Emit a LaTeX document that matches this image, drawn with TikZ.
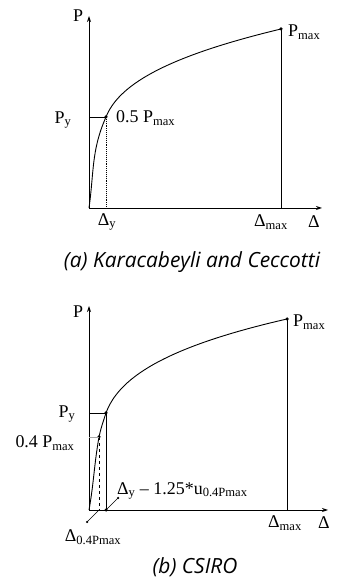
\documentclass[tikz,border=0pt]{standalone}
\usepackage{fontspec}
\setmainfont{Liberation Serif}
\newfontfamily\capfont{Open Sans}
\usetikzlibrary{arrows.meta}

\tikzset{
  axis/.style={black,line width=0.9bp,-{Stealth[length=6bp,width=4bp]}},
  curve/.style={black,line width=0.9bp},
  guide/.style={black,line width=0.9bp},
  dot/.style={circle,fill=black,inner sep=0pt,minimum size=3.5bp},
  lbl/.style={font=\fontsize{18}{21}\selectfont,inner sep=1bp},
  captext/.style={font=\capfont\itshape\fontsize{21}{25}\selectfont},
}

\begin{document}
\begin{tikzpicture}[x=1bp,y=1bp]
  \path[use as bounding box] (0,0) rectangle (338,584);
  \fill[white] (0,0) rectangle (338,584);

  % (a) upper diagram
  \coordinate (o1) at (89,376);
  \coordinate (ptop1) at (89,568);
  \coordinate (dend1) at (322,376);
  \coordinate (pyaxis1) at (89,467);
  \coordinate (dyfoot1) at (106,376);
  \coordinate (dmfoot1) at (281,376);
  \node[dot] (py1) at (106,467) {};
  \node[dot] (pmax1) at (281,555) {};

  \draw[axis] (o1) -- (ptop1);
  \draw[axis] (o1) -- (dend1);
  \draw[curve] (o1) to[out=82,in=-114] (py1.center)
    .. controls (118,497) and (160,526) .. (pmax1.center);
  \draw[guide] (pyaxis1) -- (py1.center);
  \draw[guide,densely dotted] (py1.center) -- (dyfoot1);
  \draw[guide] (pmax1.center) -- (dmfoot1);

  \node[lbl] (p1) at (78,568) {P};
  \node[lbl,anchor=west] (pmaxlbl1) at (287,552) {P\textsubscript{max}};
  \node[lbl] (pylbl1) at (63,464) {P\textsubscript{y}};
  \node[lbl,anchor=west] (halflbl1) at (115,466) {0.5 P\textsubscript{max}};
  \node[lbl] (dylbl1) at (107,362) {Δ\textsubscript{y}};
  \node[lbl] (dmlbl1) at (271,362) {Δ\textsubscript{max}};
  \node[lbl] (dlbl1) at (314,362) {Δ};
  \node[captext] (cap1) at (192,322) {(a) Karacabeyli and Ceccotti};

  % (b) lower diagram
  \coordinate (o2) at (89,74);
  \coordinate (ptop2) at (89,278);
  \coordinate (dend2) at (328,74);
  \coordinate (pyaxis2) at (89,171);
  \coordinate (qaxis2) at (89,147);
  \coordinate (qfoot2) at (99,74);
  \coordinate (dmfoot2) at (287,74);
  \node[dot] (py2) at (106,171) {};
  \node[dot] (q2) at (99,147) {};
  \node[dot] (dyfoot2) at (106,74) {};
  \node[dot] (pmax2) at (287,265) {};
  \node[dot,minimum size=2.5bp] (lead1) at (118,86) {};
  \node[dot,minimum size=2.5bp] (lead2) at (87,62) {};

  \draw[axis] (o2) -- (ptop2);
  \draw[axis] (o2) -- (dend2);
  \draw[curve] (o2) to[out=80,in=-100] (q2.center)
    to[out=78,in=-108] (py2.center)
    .. controls (118,204) and (160,236) .. (pmax2.center);
  \draw[guide] (pyaxis2) -- (py2.center);
  \draw[black!35,line width=0.5bp] (qaxis2) -- (q2.center);
  \draw[guide] (py2.center) -- (dyfoot2.center);
  \draw[guide,dashed] (q2.center) -- (qfoot2);
  \draw[guide] (pmax2.center) -- (dmfoot2);
  \draw[black,line width=0.6bp] (dyfoot2.center) -- (lead1.center);
  \draw[black,line width=0.6bp] (qfoot2) -- (lead2.center);

  \node[lbl] (p2) at (78,272) {P};
  \node[lbl,anchor=west] (pmaxlbl2) at (292,262) {P\textsubscript{max}};
  \node[lbl] (pylbl2) at (67,170) {P\textsubscript{y}};
  \node[lbl] (qlbl2) at (45,141) {0.4 P\textsubscript{max}};
  \node[lbl,anchor=west] (dyeq2) at (116,93) {Δ\textsubscript{y} – 1.25*u\textsubscript{0.4Pmax}};
  \node[lbl] (dqlbl2) at (93,47) {Δ\textsubscript{0.4Pmax}};
  \node[lbl] (dmlbl2) at (285,61) {Δ\textsubscript{max}};
  \node[lbl] (dlbl2) at (324,61) {Δ};
  \node[captext] (cap2) at (195,17) {(b) CSIRO};
\end{tikzpicture}
\end{document}
